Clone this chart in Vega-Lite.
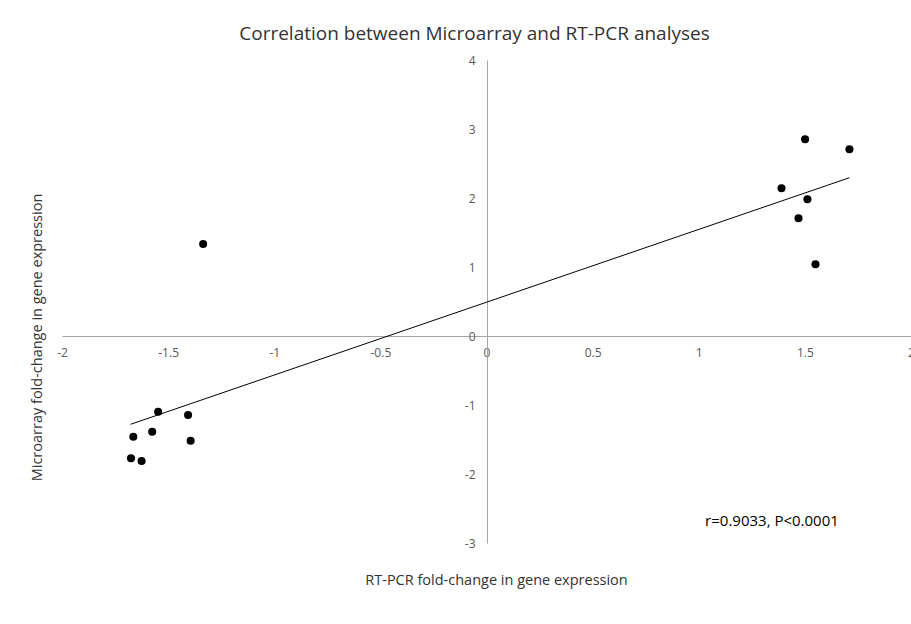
{
  "$schema": "https://vega.github.io/schema/vega-lite/v6.json",
  "autosize": {"type": "none"},
  "width": 849,
  "height": 483,
  "padding": {"left": 62, "top": 60, "right": 0, "bottom": 81},
  "background": "white",
  "config": {"view": {"stroke": null}, "font": "Open Sans"},
  "title": {
    "text": "Correlation between Microarray and RT-PCR analyses",
    "fontSize": 19,
    "fontWeight": "normal",
    "color": "#333333",
    "anchor": "middle",
    "frame": "group",
    "dx": -12,
    "offset": 10
  },
  "datasets": {
    "points": [
      {"x": -1.547, "y": -1.097},
      {"x": -1.406, "y": -1.145},
      {"x": -1.664, "y": -1.459},
      {"x": -1.575, "y": -1.387},
      {"x": -1.394, "y": -1.517},
      {"x": -1.675, "y": -1.772},
      {"x": -1.625, "y": -1.812},
      {"x": 1.501, "y": 2.851},
      {"x": 1.71, "y": 2.706},
      {"x": 1.39, "y": 2.141},
      {"x": 1.512, "y": 1.981},
      {"x": 1.47, "y": 1.706},
      {"x": 1.55, "y": 1.039},
      {"x": -1.335, "y": 1.333}
    ],
    "trend": [
      {"x": -1.677, "y": -1.28},
      {"x": 1.71, "y": 2.294}
    ],
    "note": [
      {"x": 1.03, "y": -2.68, "label": "r=0.9033, P<0.0001"}
    ]
  },
  "layer": [
    {
      "data": {"name": "points"},
      "mark": {"type": "circle", "size": 65, "opacity": 1, "color": "black"},
      "encoding": {
        "x": {
          "field": "x",
          "type": "quantitative",
          "scale": {"domain": [-2, 2], "nice": false, "zero": false},
          "axis": {
            "values": [-2, -1.5, -1, -0.5, 0, 0.5, 1, 1.5, 2],
            "labelExpr": "'' + datum.value",
            "offset": -207,
            "ticks": false,
            "tickSize": 0,
            "grid": false,
            "domainColor": "#a6a6a6",
            "labelColor": "#595959",
            "labelFontSize": 12,
            "labelPadding": 11,
            "labelFlush": false,
            "labelOverlap": false,
            "title": "RT-PCR fold-change in gene expression",
            "titleFontSize": 14.5,
            "titleFontWeight": "normal",
            "titleColor": "#333333",
            "titleX": 434,
            "titleY": 244,
            "titleAlign": "center",
            "titleBaseline": "middle"
          }
        },
        "y": {
          "field": "y",
          "type": "quantitative",
          "scale": {"domain": [-3, 4], "nice": false, "zero": false},
          "axis": {
            "values": [-3, -2, -1, 0, 1, 2, 3, 4],
            "labelExpr": "'' + datum.value",
            "offset": -425,
            "ticks": false,
            "tickSize": 0,
            "grid": false,
            "domainColor": "#a6a6a6",
            "labelColor": "#595959",
            "labelFontSize": 12,
            "labelPadding": 12,
            "labelFlush": false,
            "labelOverlap": false,
            "title": "Microarray fold-change in gene expression",
            "titleFontSize": 14.5,
            "titleFontWeight": "normal",
            "titleColor": "#333333",
            "titleX": -450,
            "titleY": 277,
            "titleAngle": -90,
            "titleAlign": "center",
            "titleBaseline": "middle"
          }
        }
      }
    },
    {
      "data": {"name": "trend"},
      "mark": {"type": "line", "color": "black", "strokeWidth": 1},
      "encoding": {
        "x": {"field": "x", "type": "quantitative"},
        "y": {"field": "y", "type": "quantitative"}
      }
    },
    {
      "data": {"name": "note"},
      "mark": {"type": "text", "align": "left", "baseline": "middle", "fontSize": 15, "color": "black"},
      "encoding": {
        "x": {"field": "x", "type": "quantitative"},
        "y": {"field": "y", "type": "quantitative"},
        "text": {"field": "label"}
      }
    }
  ]
}
